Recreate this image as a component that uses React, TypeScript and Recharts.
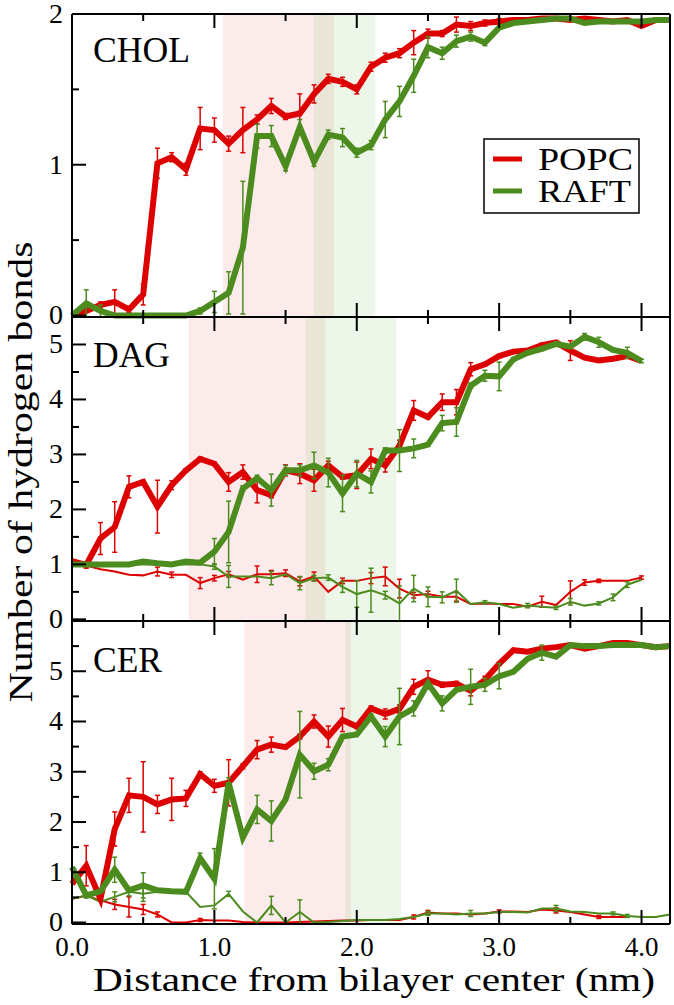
import { ErrorBar, Legend, Line, LineChart, ReferenceArea, XAxis, YAxis } from 'recharts'

// distance from bilayer center (nm)
const distance = [
  0.0, 0.1, 0.2, 0.3, 0.4, 0.5, 0.6, 0.7, 0.8, 0.9, 1.0, 1.1, 1.2, 1.3, 1.4, 1.5, 1.6, 1.7, 1.8, 1.9, 2.0,
  2.1, 2.2, 2.3, 2.4, 2.5, 2.6, 2.7, 2.8, 2.9, 3.0, 3.1, 3.2, 3.3, 3.4, 3.5, 3.6, 3.7, 3.8, 3.9, 4.0, 4.1, 4.2,
]

// CHOL
const cholPopc = [
  0, 0.03, 0.07, 0.09, 0.04, 0.14, 1.01, 1.05, 0.97, 1.24, 1.23, 1.14, 1.23, 1.3, 1.39, 1.32, 1.34, 1.47, 1.57, 1.55, 1.5,
  1.65, 1.71, 1.74, 1.81, 1.87, 1.87, 1.93, 1.92, 1.94, 1.95, 1.96, 1.96, 1.97, 1.97, 1.96, 1.97, 1.96, 1.95, 1.96, 1.92, 1.96, 1.96,
]
const cholPopcErr = [
  0, 0.04, 0.02, 0.08, 0.02, 0.07, 0.1, 0.03, 0.04, 0.14, 0.08, 0.05, 0.15, 0.03, 0.05, 0.02, 0.13, 0.06, 0.03, 0.03, 0.03,
  0.03, 0.03, 0.03, 0.08, 0.03, 0.02, 0.05, 0.03, 0.02, 0.02, 0, 0, 0, 0, 0, 0, 0, 0, 0, 0, 0, 0,
]
const cholRaft = [
  0, 0.08, 0.03, 0, 0, 0, 0, 0, 0, 0.03, 0.09, 0.15, 0.45, 1.19, 1.19, 0.99, 1.25, 1.02, 1.2, 1.18, 1.08,
  1.13, 1.3, 1.42, 1.59, 1.78, 1.74, 1.82, 1.85, 1.81, 1.91, 1.94, 1.95, 1.96, 1.97, 1.97, 1.94, 1.95, 1.95, 1.95, 1.95, 1.96, 1.96,
]
const cholRaftErr = [
  0, 0.09, 0.04, 0, 0, 0, 0, 0, 0, 0.02, 0.07, 0.14, 0.44, 0.08, 0.07, 0.03, 0.05, 0.03, 0.03, 0.06, 0.03,
  0.03, 0.12, 0.1, 0.11, 0.07, 0.04, 0.04, 0.03, 0.02, 0, 0, 0, 0, 0, 0, 0, 0, 0, 0, 0, 0, 0,
]

// DAG
const dagPopc = [
  1.06, 0.99, 1.47, 1.68, 2.41, 2.5, 2.05, 2.44, 2.71, 2.92, 2.83, 2.5, 2.68, 2.35, 2.26, 2.71, 2.65, 2.53, 2.8, 2.59, 2.62,
  2.92, 2.8, 3.16, 3.8, 3.68, 3.95, 3.95, 4.55, 4.64, 4.79, 4.87, 4.89, 4.99, 5.04, 4.89, 4.76, 4.71, 4.74, 4.79, 4.7, null, null,
]
const dagPopcErr = [
  0, 0.03, 0.29, 0.46, 0.2, 0.03, 0.48, 0.08, 0.03, 0.03, 0.03, 0.17, 0.13, 0.23, 0.05, 0.1, 0.18, 0.2, 0.08, 0.04, 0.24,
  0.18, 0.12, 0.1, 0.18, 0.03, 0.15, 0.23, 0.12, 0.03, 0.03, 0, 0, 0.03, 0.03, 0.18, 0, 0, 0, 0, 0, 0, 0,
]
const dagRaft = [
  1.0, 1.0, 1.0, 1.0, 1.0, 1.05, 1.02, 1.0, 1.05, 1.03, 1.23, 1.59, 2.38, 2.57, 2.35, 2.71, 2.71, 2.8, 2.67, 2.29, 2.65,
  2.5, 3.07, 3.07, 3.11, 3.18, 3.57, 3.59, 4.25, 4.43, 4.42, 4.73, 4.85, 4.92, 5.01, 4.96, 5.14, 5.04, 4.9, 4.85, 4.7, null, null,
]
const dagRaftErr = [
  0, 0, 0, 0, 0, 0.03, 0, 0, 0, 0, 0.24, 0.56, 0.05, 0.05, 0.29, 0.09, 0.1, 0.24, 0.26, 0.33, 0.24,
  0.2, 0.05, 0.38, 0.17, 0.03, 0.14, 0.26, 0.05, 0.1, 0.26, 0.03, 0.03, 0.03, 0.03, 0.03, 0.06, 0.09, 0.03, 0.1, 0.03, 0, 0,
]
const dagPopcThin = [
  1.05, 0.98, 0.91, 0.87, 0.81, 0.8, 0.87, 0.81, 0.81, 0.66, 0.75, 0.82, 0.72, 0.82, 0.82, 0.84, 0.69, 0.78, 0.5, 0.7, 0.7,
  0.75, 0.78, 0.56, 0.44, 0.46, 0.41, 0.41, 0.28, 0.29, 0.28, 0.28, 0.23, 0.32, 0.26, 0.5, 0.67, 0.7, 0.7, 0.7, 0.76, null, null,
]
const dagPopcThinErr = [
  0, 0.05, 0, 0, 0, 0, 0.08, 0.05, 0, 0.1, 0.05, 0.05, 0, 0.15, 0.07, 0.06, 0.08, 0.08, 0, 0.05, 0,
  0.1, 0.17, 0.17, 0.05, 0.05, 0, 0.08, 0, 0, 0, 0, 0, 0.1, 0, 0.2, 0.05, 0.03, 0, 0, 0.03, 0, 0,
]
const dagRaftThin = [
  1.0, 1.0, 1.0, 1.0, 1.0, 1.0, 1.0, 1.0, 1.0, 1.0, 0.96, 0.78, 0.78, 0.78, 0.75, 0.82, 0.66, 0.75, 0.76, 0.59, 0.46,
  0.53, 0.44, 0.29, 0.56, 0.41, 0.4, 0.52, 0.28, 0.31, 0.28, 0.21, 0.25, 0.23, 0.21, 0.32, 0.25, 0.29, 0.4, 0.63, 0.72, null, null,
]
const dagRaftThinErr = [
  0, 0, 0, 0, 0, 0, 0, 0, 0, 0, 0.05, 0.2, 0, 0, 0.12, 0, 0.12, 0.05, 0.05, 0.1, 0.24,
  0.4, 0.07, 0.32, 0.24, 0.18, 0.1, 0.21, 0, 0.03, 0, 0, 0.04, 0, 0.03, 0.06, 0, 0.03, 0.06, 0.05, 0, 0, 0,
]

// CER
const cerPopc = [
  0.77, 1.13, 0.47, 1.86, 2.53, 2.5, 2.35, 2.45, 2.47, 2.95, 2.72, 2.78, 3.11, 3.44, 3.54, 3.49, 3.7, 4.0, 3.7, 4.03, 3.9,
  4.26, 4.15, 4.25, 4.69, 4.83, 4.73, 4.75, 4.61, 4.83, 5.15, 5.42, 5.39, 5.45, 5.48, 5.52, 5.45, 5.5, 5.56, 5.56, 5.52, 5.48, 5.5,
]
const cerPopcErr = [
  0, 0.4, 0.03, 0.34, 0.34, 0.7, 0.18, 0.42, 0.16, 0.05, 0.13, 0.46, 0.05, 0.18, 0.15, 0.03, 0.05, 0.13, 0.21, 0.23, 0.04,
  0.05, 0.1, 0.08, 0.15, 0.18, 0.05, 0.05, 0.1, 0.07, 0.03, 0, 0, 0, 0, 0, 0, 0, 0, 0, 0, 0, 0,
]
const cerRaft = [
  1.1, 0.54, 0.62, 1.05, 0.64, 0.74, 0.64, 0.62, 0.61, 1.28, 0.87, 2.78, 1.69, 2.25, 2.02, 2.45, 3.34, 3.01, 3.14, 3.7, 3.74,
  4.1, 3.7, 4.1, 4.26, 4.76, 4.36, 4.63, 4.69, 4.73, 4.9, 4.99, 5.25, 5.37, 5.29, 5.52, 5.5, 5.5, 5.52, 5.52, 5.52, 5.48, 5.5,
]
const cerRaftErr = [
  0, 0.05, 0, 0.25, 0, 0.25, 0, 0, 0, 0.1, 0.6, 0.1, 0, 0.28, 0.4, 0, 0.86, 0.16, 0.12, 0, 0,
  0.05, 0.2, 0.56, 0.15, 0, 0.15, 0, 0.35, 0.13, 0.25, 0, 0, 0.15, 0, 0, 0, 0, 0, 0, 0, 0, 0,
]
const cerPopcThin = [
  0.47, 0.53, 0.44, 0.36, 0.31, 0.26, 0.16, 0, 0, 0.05, 0.04, 0.04, 0.01, 0, 0, 0, 0.01, 0.02, 0.03, 0.04, 0.04,
  0.05, 0.05, 0.05, 0.11, 0.2, 0.18, 0.18, 0.16, 0.18, 0.22, 0.22, 0.21, 0.26, 0.24, 0.21, 0.16, 0.11, 0.11, 0.11, null, null, null,
]
const cerPopcThinErr = [
  0, 0, 0, 0.1, 0.2, 0.1, 0.05, 0, 0, 0.03, 0, 0, 0, 0, 0, 0, 0, 0, 0, 0, 0,
  0, 0, 0, 0.04, 0.04, 0, 0, 0, 0, 0.03, 0, 0, 0, 0.05, 0, 0, 0.03, 0, 0, 0, 0, 0,
]
const cerRaftThin = [
  0.47, 0.54, 0.41, 0.51, 0.61, 0.57, 0.61, 0.61, 0.61, 0.31, 0.34, 0.57, 0.22, 0, 0.34, 0, 0.21, 0, 0.01, 0.03, 0.05,
  0.05, 0.05, 0.07, 0.11, 0.18, 0.18, 0.16, 0.18, 0.18, 0.21, 0.21, 0.2, 0.28, 0.28, 0.22, 0.21, 0.18, 0.18, 0.13, 0.11, 0.11, 0.16,
]
const cerRaftThinErr = [
  0, 0, 0, 0.1, 0.08, 0.15, 0, 0, 0, 0, 0, 0.05, 0, 0, 0.18, 0, 0.24, 0, 0, 0, 0,
  0, 0, 0, 0, 0.04, 0, 0, 0.06, 0, 0, 0, 0, 0, 0.06, 0, 0, 0, 0.03, 0.03, 0, 0, 0,
]

// shaded regions [from, to] in nm
const cholBands = { popc: [1.06, 1.84], raft: [1.7, 2.13] }
const dagBands = { popc: [0.82, 1.78], raft: [1.64, 2.28] }
const cerBands = { popc: [1.21, 1.96], raft: [1.92, 2.31] }

const xTicks = [0, 0.5, 1, 1.5, 2, 2.5, 3, 3.5, 4]
const cholTicks = [0, 0.5, 1, 1.5, 2]
const dagTicks = [0, 0.5, 1, 1.5, 2, 2.5, 3, 3.5, 4, 4.5, 5, 5.5]
const cerTicks = [0, 0.5, 1, 1.5, 2, 2.5, 3, 3.5, 4, 4.5, 5, 5.5, 6]

const SERIF = '"Liberation Serif", "Times New Roman", Times, serif'
const RED = '#dd0000'
const GREEN = '#4c8c1e'

const isMajor = (v: number) => Math.abs(v - Math.round(v)) < 1e-6

const buildRows = (
  popc: (number | null)[],
  popcErr: number[],
  raft: (number | null)[],
  raftErr: number[],
  popcThin?: (number | null)[],
  popcThinErr?: number[],
  raftThin?: (number | null)[],
  raftThinErr?: number[],
) =>
  distance.map((d, i) => ({
    d,
    popc: popc[i],
    popcErr: popcErr[i],
    raft: raft[i],
    raftErr: raftErr[i],
    popcThin: popcThin ? popcThin[i] : null,
    popcThinErr: popcThinErr ? popcThinErr[i] : 0,
    raftThin: raftThin ? raftThin[i] : null,
    raftThinErr: raftThinErr ? raftThinErr[i] : 0,
  }))

// tick marks point inward; labels sit outside the frame
const makeXTick = (side: 'top' | 'bottom', withLabels: boolean) => (props: any) => {
  const { x, y, payload } = props
  const v = Number(payload.value)
  const len = isMajor(v) ? 14 : 7
  const dir = side === 'bottom' ? -1 : 1
  return (
    <g>
      <line x1={x} y1={y} x2={x} y2={y + dir * len} stroke="#000" strokeWidth={2} />
      {withLabels && isMajor(v) ? (
        <text x={x} y={y + 32} textAnchor="middle" style={{ fontFamily: SERIF, fontSize: 27 }} fill="#000">
          {v.toFixed(1)}
        </text>
      ) : null}
    </g>
  )
}

const makeYTick = (side: 'left' | 'right', labelMax: number) => (props: any) => {
  const { x, y, payload } = props
  const v = Number(payload.value)
  const len = isMajor(v) ? 14 : 7
  const dir = side === 'left' ? 1 : -1
  return (
    <g>
      <line x1={x} y1={y} x2={x + dir * len} y2={y} stroke="#000" strokeWidth={2} />
      {side === 'left' && isMajor(v) && v <= labelMax ? (
        <text x={x - 9} y={y + 9} textAnchor="end" style={{ fontFamily: SERIF, fontSize: 28 }} fill="#000">
          {v}
        </text>
      ) : null}
    </g>
  )
}

const LegendBox = () => (
  <svg width={157} height={76} style={{ display: 'block' }}>
    <rect x={1} y={1} width={155} height={74} fill="#fff" stroke="#000" strokeWidth={1.5} />
    <line x1={10} y1={21} x2={39} y2={21} stroke={RED} strokeWidth={5} />
    <line x1={10} y1={53} x2={39} y2={53} stroke={GREEN} strokeWidth={5} />
    <text x={55} y={32} style={{ fontFamily: SERIF, fontSize: 32 }} textLength={95} lengthAdjust="spacingAndGlyphs">
      POPC
    </text>
    <text x={55} y={64} style={{ fontFamily: SERIF, fontSize: 32 }} textLength={93} lengthAdjust="spacingAndGlyphs">
      RAFT
    </text>
  </svg>
)

interface PanelProps {
  rows: ReturnType<typeof buildRows>
  top: number
  plotHeight: number
  bottomSpace: number
  yMax: number
  yTicks: number[]
  labelMax: number
  bands: { popc: number[]; raft: number[] }
  showXLabels?: boolean
  thin?: boolean
  legend?: boolean
}

const axisStroke = { stroke: '#000', strokeWidth: 2 }

const Panel = ({ rows, top, plotHeight, bottomSpace, yMax, yTicks, labelMax, bands, showXLabels = false, thin = false, legend = false }: PanelProps) => (
  <div style={{ position: 'absolute', left: 0, top: top - 14 }}>
    <LineChart
      width={674}
      height={14 + plotHeight + bottomSpace}
      data={rows}
      margin={{ top: 13, right: 3, bottom: bottomSpace - 1, left: 71 }}
    >
      <ReferenceArea x1={bands.popc[0]} x2={bands.popc[1]} fill="rgb(225,120,120)" fillOpacity={0.15} stroke="none" />
      <ReferenceArea x1={bands.raft[0]} x2={bands.raft[1]} fill="rgb(130,200,100)" fillOpacity={0.14} stroke="none" />
      <XAxis
        dataKey="d"
        type="number"
        domain={[0, 4.2]}
        ticks={xTicks}
        interval={0}
        height={1}
        tickSize={0}
        tickMargin={0}
        tickLine={false}
        axisLine={axisStroke}
        tick={makeXTick('bottom', showXLabels)}
      />
      <XAxis
        xAxisId="top"
        orientation="top"
        dataKey="d"
        type="number"
        domain={[0, 4.2]}
        ticks={xTicks}
        interval={0}
        height={1}
        tickSize={0}
        tickMargin={0}
        tickLine={false}
        axisLine={axisStroke}
        tick={makeXTick('top', false)}
      />
      <YAxis
        type="number"
        domain={[0, yMax]}
        ticks={yTicks}
        interval={0}
        width={1}
        tickSize={0}
        tickMargin={0}
        tickLine={false}
        axisLine={axisStroke}
        tick={makeYTick('left', labelMax)}
      />
      <YAxis
        yAxisId="right"
        orientation="right"
        type="number"
        domain={[0, yMax]}
        ticks={yTicks}
        interval={0}
        width={1}
        tickSize={0}
        tickMargin={0}
        tickLine={false}
        axisLine={axisStroke}
        tick={makeYTick('right', labelMax)}
      />
      {thin && (
        <Line type="linear" dataKey="popcThin" stroke={RED} strokeWidth={2} dot={false} isAnimationActive={false}>
          <ErrorBar dataKey="popcThinErr" width={2.5} stroke={RED} strokeWidth={1.5} isAnimationActive={false} />
        </Line>
      )}
      {thin && (
        <Line type="linear" dataKey="raftThin" stroke={GREEN} strokeWidth={2} dot={false} isAnimationActive={false}>
          <ErrorBar dataKey="raftThinErr" width={2.5} stroke={GREEN} strokeWidth={1.5} isAnimationActive={false} />
        </Line>
      )}
      <Line type="linear" dataKey="popc" stroke={RED} strokeWidth={6} dot={false} isAnimationActive={false}>
        <ErrorBar dataKey="popcErr" width={2.5} stroke={RED} strokeWidth={1.5} isAnimationActive={false} />
      </Line>
      <Line type="linear" dataKey="raft" stroke={GREEN} strokeWidth={6} dot={false} isAnimationActive={false}>
        <ErrorBar dataKey="raftErr" width={2.5} stroke={GREEN} strokeWidth={1.5} isAnimationActive={false} />
      </Line>
      {legend && (
        <Legend
          layout="horizontal"
          verticalAlign="middle"
          align="center"
          content={() => <LegendBox />}
          wrapperStyle={{ position: 'absolute', left: 483, top: 138, width: 157, height: 76 }}
        />
      )}
    </LineChart>
  </div>
)

const cholRows = buildRows(cholPopc, cholPopcErr, cholRaft, cholRaftErr)
const dagRows = buildRows(dagPopc, dagPopcErr, dagRaft, dagRaftErr, dagPopcThin, dagPopcThinErr, dagRaftThin, dagRaftThinErr)
const cerRows = buildRows(cerPopc, cerPopcErr, cerRaft, cerRaftErr, cerPopcThin, cerPopcThinErr, cerRaftThin, cerRaftThinErr)

export default function App() {
  return (
    <div style={{ position: 'absolute', left: 0, top: 0, width: 674, height: 1005, background: '#fff', overflow: 'hidden', fontFamily: SERIF }}>
      <Panel rows={cholRows} top={14} plotHeight={303} bottomSpace={20} yMax={2} yTicks={cholTicks} labelMax={2} bands={cholBands} legend />
      <Panel rows={dagRows} top={317} plotHeight={304} bottomSpace={20} yMax={5.5} yTicks={dagTicks} labelMax={5} bands={dagBands} thin />
      <Panel rows={cerRows} top={621} plotHeight={303} bottomSpace={60} yMax={6} yTicks={cerTicks} labelMax={5} bands={cerBands} thin showXLabels />
      <svg width={674} height={1005} style={{ position: 'absolute', left: 0, top: 0, pointerEvents: 'none', fontFamily: SERIF }}>
        <text x={93} y={62} fontSize={36} textLength={97} lengthAdjust="spacingAndGlyphs">CHOL</text>
        <text x={93} y={367} fontSize={35} textLength={77} lengthAdjust="spacingAndGlyphs">DAG</text>
        <text x={93} y={672} fontSize={35} textLength={69} lengthAdjust="spacingAndGlyphs">CER</text>
        <text x={93} y={991} fontSize={34} textLength={562} lengthAdjust="spacingAndGlyphs">
          Distance from bilayer center (nm)
        </text>
        <text
          x={32}
          y={472}
          transform="rotate(-90 32 472)"
          textAnchor="middle"
          fontSize={33}
          textLength={461}
          lengthAdjust="spacingAndGlyphs"
        >
          Number of hydrogen bonds
        </text>
      </svg>
    </div>
  )
}
